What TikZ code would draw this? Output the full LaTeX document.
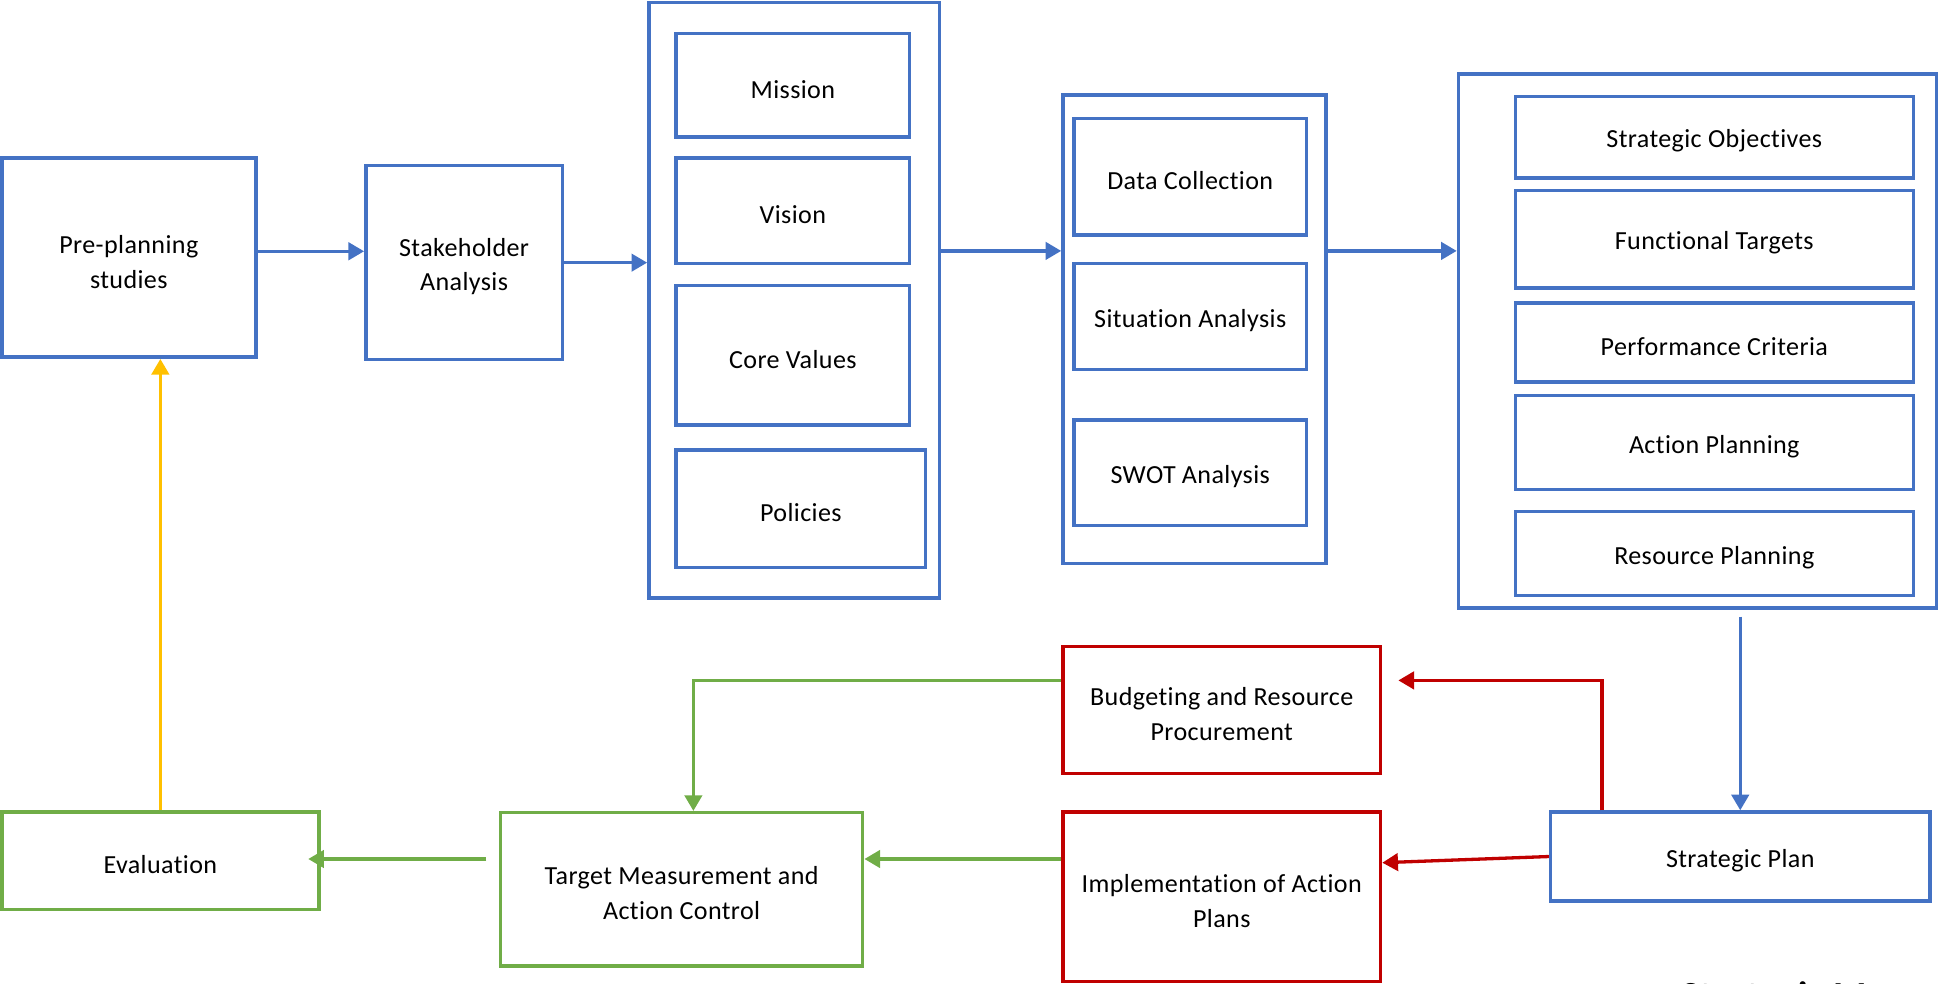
\documentclass[tikz,border=0pt]{standalone}
\usepackage{fontspec}
\setmainfont{Carlito}[LetterSpace=1.5,Ligatures=NoCommon]
\usetikzlibrary{arrows.meta}
\definecolor{boxblue}{HTML}{4472C4}
\definecolor{boxred}{HTML}{C00000}
\definecolor{boxgreen}{HTML}{70AD47}
\definecolor{boxyellow}{HTML}{FFC000}
\def\pxu{0.025cm}
\newcommand\lift{\rule{0pt}{15pt}}

\begin{document}
\begin{tikzpicture}[x=0.025cm,y=-0.025cm,
  box/.style={draw=#1,line width=2pt,align=center,inner sep=2pt,font=\fontsize{15}{20}\selectfont,
    execute at begin node={\lift}},
  arr/.style={draw=#1,line width=1.9pt,-{Triangle[length=9pt,width=10pt]}}]
\useasboundingbox (0,0) rectangle (1568,796);
% top row
\node[box=boxblue,minimum width=205.5*\pxu,minimum height=161*\pxu] (pre) at (104.25,208.5) {\lift Pre-planning\\studies};
\node[box=boxblue,minimum width=159*\pxu,minimum height=157*\pxu] (stake) at (375.5,212.5) {\lift Stakeholder\\Analysis};
\node[box=boxblue,minimum width=235*\pxu,minimum height=482*\pxu] (purpose) at (642.5,243) {};
\node[box=boxblue,minimum width=189*\pxu,minimum height=84*\pxu] (mission) at (641.5,69) {Mission};
\node[box=boxblue,minimum width=189*\pxu,minimum height=85*\pxu] (vision) at (641.5,170.5) {Vision};
\node[box=boxblue,minimum width=189*\pxu,minimum height=113*\pxu] (values) at (641.5,287.5) {Core Values};
\node[box=boxblue,minimum width=202*\pxu,minimum height=95*\pxu] (policies) at (648,411.5) {Policies};
\node[box=boxblue,minimum width=213*\pxu,minimum height=379*\pxu] (analysis) at (966.5,266.5) {};
\node[box=boxblue,minimum width=188*\pxu,minimum height=94*\pxu] (data) at (963,143) {Data Collection};
\node[box=boxblue,minimum width=188*\pxu,minimum height=86*\pxu] (situation) at (963,256) {Situation Analysis};
\node[box=boxblue,minimum width=188*\pxu,minimum height=85*\pxu] (swot) at (963,382.5) {SWOT Analysis};
\node[box=boxblue,minimum width=387*\pxu,minimum height=432*\pxu] (planning) at (1373.5,276) {};
\node[box=boxblue,minimum width=322*\pxu,minimum height=66*\pxu] (objectives) at (1387,111) {Strategic Objectives};
\node[box=boxblue,minimum width=322*\pxu,minimum height=79*\pxu] (targets) at (1387,193.5) {Functional Targets};
\node[box=boxblue,minimum width=322*\pxu,minimum height=64*\pxu] (criteria) at (1387,277) {Performance Criteria};
\node[box=boxblue,minimum width=322*\pxu,minimum height=76*\pxu] (actionplan) at (1387,358) {Action Planning};
\node[box=boxblue,minimum width=322*\pxu,minimum height=68*\pxu] (resources) at (1387,448) {Resource Planning};
% bottom row
\node[box=boxblue,minimum width=307*\pxu,minimum height=72*\pxu] (plan) at (1408,693) {Strategic Plan};
\node[box=boxred,minimum width=257*\pxu,minimum height=103*\pxu] (budget) at (988.5,574.5) {\lift Budgeting and Resource\\Procurement};
\node[box=boxred,minimum width=257*\pxu,minimum height=137*\pxu] (impl) at (988.5,725.5) {\lift Implementation of Action\\Plans};
\node[box=boxgreen,minimum width=293*\pxu,minimum height=124*\pxu] (measure) at (551.5,719.5) {\lift Target Measurement and\\Action Control};
\node[box=boxgreen,minimum width=256.5*\pxu,minimum height=79*\pxu] (eval) at (129.75,696.5) {Evaluation};
\node[anchor=base west,inner sep=0pt,font=\fontsize{22}{26}\bfseries\selectfont] (title) at (1360,816) {Strategic M};
% connectors
\draw[arr=boxblue] ([yshift=3.7pt]pre.east) -- ([yshift=3.7pt]pre.east -| stake.west);
\draw[arr=boxblue] (stake.east) -- (stake.east -| purpose.west);
\draw[arr=boxblue] ([yshift=40*\pxu]purpose.east) -- ([yshift=40*\pxu]purpose.east -| analysis.west);
\draw[arr=boxblue] ([yshift=63.5*\pxu]analysis.east) -- ([yshift=63.5*\pxu]analysis.east -| planning.west);
\draw[arr=boxblue] ([yshift=-5.5*\pxu]planning.south -| plan.north) -- (plan.north);
\draw[arr=boxred] ([xshift=43*\pxu]plan.north west) |- ([shift={(13,-24)}]budget.east);
\draw[arr=boxred] (plan.west) -- ([yshift=27.5*\pxu]impl.east);
\draw[arr=boxgreen] ([yshift=24*\pxu]budget.west) -| ([xshift=9.5*\pxu]measure.north);
\draw[arr=boxgreen] ([yshift=30.5*\pxu]impl.west) -- ([yshift=30.5*\pxu]impl.west -| measure.east);
\draw[arr=boxgreen] ([shift={(-10,-24.5)}]measure.west) -- ([shift={(-10,-24.5)}]measure.west -| eval.east);
\draw[arr=boxyellow] (eval.north) -- (eval.north |- pre.south);
\end{tikzpicture}
\end{document}
